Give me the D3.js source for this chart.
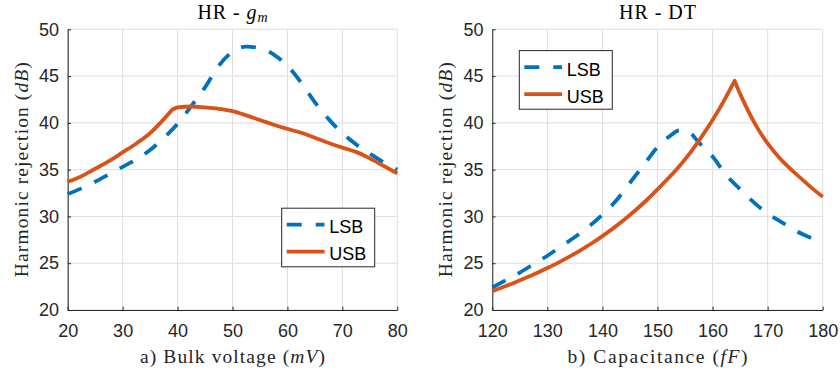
<!DOCTYPE html>
<html>
<head>
<meta charset="utf-8">
<script src="https://cdn.jsdelivr.net/npm/d3@7"></script>
<style>
  body { margin: 0; background: #fff; }
  svg { display: block; }
</style>
</head>
<body>
<svg id="chart" width="840" height="371"></svg>
<script>
// ---- data ----
const yTicks = [20, 25, 30, 35, 40, 45, 50];

// Panel a) harmonic rejection vs bulk voltage (mV)
const bulkTicks = [20, 30, 40, 50, 60, 70, 80];
const bulkVoltage = [20, 22.5, 25, 27.5, 30, 32.5, 35, 37.5, 40, 42.5, 45, 47.5, 50,
                     52.5, 55, 57.5, 60, 62.5, 65, 67.5, 70, 72.5, 75, 77.5, 80];
const lsbBulk = [32.4, 33.0, 33.7, 34.5, 35.3, 36.1, 37.1, 38.4, 39.9, 41.8, 43.8, 46.1, 47.6,
                 48.15, 48.0, 47.3, 46.1, 44.3, 42.2, 40.4, 38.9, 37.7, 36.7, 35.8, 35.0];
const usbBulkX = [20, 22.5, 25, 27.5, 30, 32.5, 35, 37.5, 39, 40, 42.5, 45, 47.5, 50,
                  52.5, 55, 57.5, 60, 62.5, 65, 67.5, 70, 72.5, 75, 77.5, 80];
const usbBulk = [33.7, 34.3, 35.1, 35.9, 36.85, 37.8, 38.9, 40.4, 41.4, 41.65, 41.75, 41.65, 41.5, 41.25,
                 40.8, 40.3, 39.8, 39.35, 38.95, 38.4, 37.85, 37.35, 36.9, 36.2, 35.4, 34.6];

// Panel b) harmonic rejection vs capacitance (fF)
const capTicks = [120, 130, 140, 150, 160, 170, 180];
const capLsbX = [120, 122.5, 125, 127.5, 130, 132.5, 135, 137.5, 140, 142.5, 145, 147.5, 150,
                 152.5, 154, 155.5, 157.5, 160, 162.5, 165, 167.5, 170, 172.5, 175, 177.5, 180];
const lsbCap = [22.4, 23.2, 24.0, 24.9, 25.8, 26.8, 27.8, 28.9, 30.2, 31.7, 33.6, 35.5, 37.4,
                38.7, 39.2, 39.1, 37.9, 36.4, 34.4, 32.9, 31.5, 30.3, 29.4, 28.5, 27.8, 27.1];
const capUsbX = [120, 122, 124, 126, 128, 130, 132, 134, 136, 138, 140, 142, 144, 146, 148, 150,
                 152, 154, 156, 158, 160, 162, 164, 165, 166, 168, 170, 172, 174, 176, 178, 180];
const usbCap = [22.0, 22.45, 22.92, 23.41, 23.93, 24.48, 25.07, 25.7, 26.38, 27.11, 27.9, 28.75, 29.67,
                30.66, 31.73, 32.89, 34.1, 35.4, 36.85, 38.5, 40.3, 42.3, 44.5, 43.1, 41.85,
                39.6, 37.8, 36.35, 35.15, 34.1, 33.05, 32.1];

const seriesNames = ["LSB", "USB"];

// ---- styling ----
const BLUE = "#0072BD";
const ORANGE = "#D95319";
const AXIS = "#262626";
const GRID = "#dedede";
const SANS = "'Liberation Sans', Arial, Helvetica, sans-serif";
const SERIF = "'Liberation Serif', 'Times New Roman', serif";
const LINE_W = 3.8;

const svg = d3.select("#chart");
const plotTop = 29.3, plotBottom = 310;
const y = d3.scaleLinear().domain([20, 50]).range([plotBottom, plotTop]);

// Smooth path that keeps sharp corners at the given x positions
// (each piece between corners is interpolated monotonically).
function piecewisePath(pts, x, corners) {
  const line = d3.line().x(d => x(d[0])).y(d => y(d[1])).curve(d3.curveMonotoneX);
  const cuts = [pts[0][0], ...corners, pts[pts.length - 1][0]];
  let d = "";
  for (let k = 0; k < cuts.length - 1; k++) {
    const seg = pts.filter(p => p[0] >= cuts[k] && p[0] <= cuts[k + 1]);
    let s = line(seg);
    if (k > 0) s = "L" + s.slice(1); // continue from the previous piece's end
    d += s;
  }
  return d;
}

function drawPanel(cfg) {
  const x = d3.scaleLinear().domain(cfg.domain).range([cfg.left, cfg.right]);
  const g = svg.append("g");

  // grid
  g.append("g").selectAll("line").data(cfg.ticks).join("line")
    .attr("x1", d => x(d)).attr("x2", d => x(d))
    .attr("y1", plotTop).attr("y2", plotBottom)
    .attr("stroke", GRID).attr("stroke-width", 1);
  g.append("g").selectAll("line").data(yTicks).join("line")
    .attr("x1", cfg.left).attr("x2", cfg.right)
    .attr("y1", d => y(d)).attr("y2", d => y(d))
    .attr("stroke", GRID).attr("stroke-width", 1);

  // axes (ticks pointing inward)
  const xAxis = g.append("g").attr("transform", `translate(0,${plotBottom})`)
    .call(d3.axisBottom(x).tickValues(cfg.ticks).tickSizeInner(-3.3).tickSizeOuter(0).tickPadding(14.2));
  const yAxis = g.append("g").attr("transform", `translate(${cfg.left},0)`)
    .call(d3.axisLeft(y).tickValues(yTicks).tickSizeInner(-3.3).tickSizeOuter(0).tickPadding(8.7));
  [xAxis, yAxis].forEach(a => {
    a.select(".domain").attr("stroke", AXIS).attr("stroke-width", 1);
    a.selectAll(".tick line").attr("stroke", AXIS).attr("stroke-width", 1);
    a.selectAll(".tick text").attr("fill", AXIS)
      .style("font-family", SANS).style("font-size", "18px");
  });

  // curves
  cfg.series.forEach(s => {
    const pts = s.xs.map((v, i) => [v, s.ys[i]]);
    g.append("path")
      .attr("fill", "none")
      .attr("stroke", s.color)
      .attr("stroke-width", LINE_W)
      .attr("stroke-linejoin", "round")
      .attr("stroke-dasharray", s.dash || null)
      .attr("d", piecewisePath(pts, x, s.corners || []));
  });

  // title
  const title = g.append("text")
    .attr("x", (cfg.left + cfg.right) / 2).attr("y", 19)
    .attr("text-anchor", "middle")
    .attr("textLength", cfg.titleWidth).attr("lengthAdjust", "spacing")
    .style("font-family", SERIF).style("font-size", "20px").attr("fill", "#000");
  cfg.title(title);

  // x label
  const xl = g.append("text")
    .attr("x", (cfg.left + cfg.right) / 2).attr("y", 363)
    .attr("text-anchor", "middle")
    .attr("textLength", cfg.xlabelWidth).attr("lengthAdjust", "spacing")
    .style("font-family", SERIF).style("font-size", "19.5px").attr("fill", AXIS);
  cfg.xlabel(xl);

  // y label
  const yl = g.append("text")
    .attr("transform", `translate(${cfg.ylabelX},${(plotTop + plotBottom) / 2}) rotate(-90)`)
    .attr("text-anchor", "middle")
    .attr("textLength", 215).attr("lengthAdjust", "spacing")
    .style("font-family", SERIF).style("font-size", "19.5px").attr("fill", AXIS);
  yl.append("tspan").text("Harmonic rejection (");
  yl.append("tspan").style("font-style", "italic").text("dB");
  yl.append("tspan").text(")");

  // legend
  const lg = g.append("g").attr("transform", `translate(${cfg.legend[0]},${cfg.legend[1]})`);
  lg.append("rect").attr("x", 0).attr("y", 0).attr("width", 93).attr("height", 58.6)
    .attr("fill", "#fff").attr("stroke", AXIS).attr("stroke-width", 1);
  cfg.series.forEach((s, i) => {
    const cy = 16.5 + i * 27;
    lg.append("line").attr("x1", 5).attr("x2", 42.8).attr("y1", cy).attr("y2", cy)
      .attr("stroke", s.color).attr("stroke-width", LINE_W)
      .attr("stroke-dasharray", s.dash || null);
    lg.append("text").attr("x", 47.5).attr("y", cy + 8.6)
      .style("font-family", SANS).style("font-size", "18px").attr("fill", "#000")
      .text(seriesNames[i]);
  });
}

drawPanel({
  domain: [20, 80], ticks: bulkTicks, left: 67.7, right: 397.3,
  ylabelX: 28, legend: [281.7, 208.2], xlabelWidth: 185, titleWidth: 70,
  title: t => {
    t.append("tspan").text("HR - ");
    t.append("tspan").style("font-style", "italic").text("g");
    t.append("tspan").style("font-style", "italic").style("font-size", "14px").attr("dy", 3).text("m");
  },
  xlabel: t => {
    t.append("tspan").text("a) Bulk voltage (");
    t.append("tspan").style("font-style", "italic").text("mV");
    t.append("tspan").text(")");
  },
  series: [
    { xs: bulkVoltage, ys: lsbBulk, color: BLUE, dash: "15,14" },
    { xs: usbBulkX, ys: usbBulk, color: ORANGE, corners: [39] }
  ]
});

drawPanel({
  domain: [120, 180], ticks: capTicks, left: 492.3, right: 822.7,
  ylabelX: 452, legend: [519.3, 50.6], xlabelWidth: 180, titleWidth: 77,
  title: t => { t.text("HR - DT"); },
  xlabel: t => {
    t.append("tspan").text("b) Capacitance (");
    t.append("tspan").style("font-style", "italic").text("fF");
    t.append("tspan").text(")");
  },
  series: [
    { xs: capLsbX, ys: lsbCap, color: BLUE, dash: "15,14" },
    { xs: capUsbX, ys: usbCap, color: ORANGE, corners: [164] }
  ]
});
</script>
</body>
</html>
